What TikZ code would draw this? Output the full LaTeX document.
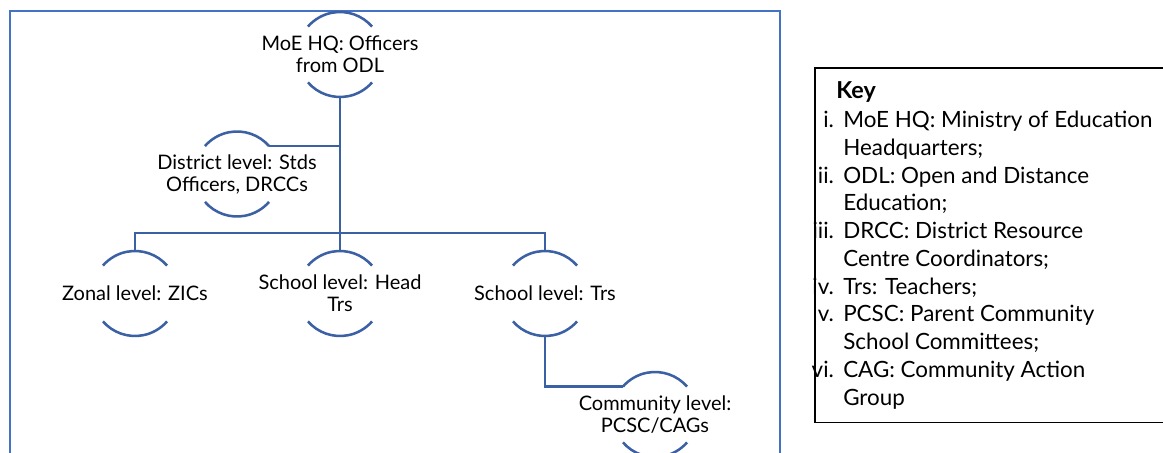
\documentclass[tikz,border=0pt]{standalone}
\usepackage{fontspec}
\setmainfont{Lato}
\usetikzlibrary{positioning}
\definecolor{frameblue}{RGB}{68,114,196}
\definecolor{ringblue}{RGB}{59,96,163}
\tikzset{
    ring/.style={circle,minimum size=63.75pt,inner sep=0pt,outer sep=0pt},
    lvl/.style={align=center,inner sep=0pt,font=\fontsize{15}{16.5}\selectfont},
    arcs/.style={ringblue,line width=1.9pt},
    link/.style={-,ringblue,line width=1.9pt},
    keytext/.style={align=left,inner sep=0pt,font=\fontsize{16.8}{20.8}\selectfont}
}
\newcommand{\keyitem}[2]{\makebox[0pt][r]{#1\hspace{7pt}}#2}

\begin{document}
\begin{tikzpicture}[x=0.75pt,y=0.75pt]

    \useasboundingbox (0,0) rectangle (1163,453);
    \draw[frameblue,line width=1.5pt] (10,-20) rectangle (780,442);

    \node[ring] (moe)       at (340,398.5) {};
    \node[ring] (district)  at (237,279)   {};
    \node[ring] (zonal)     at (135,159.5) {};
    \node[ring] (head)      at (340,159.5) {};
    \node[ring] (trs)       at (545,159.5) {};
    \node[ring] (community) at (655,38.5)  {};

    \foreach \r in {moe,district,zonal,head,trs,community}{
        \draw[arcs] (\r.41)  arc[start angle=41,end angle=139,radius=31.875pt];
        \draw[arcs] (\r.221) arc[start angle=221,end angle=319,radius=31.875pt];
    }

    \node[lvl] (moe text)       at (moe)       {MoE HQ: Officers\\from ODL};
    \node[lvl] (district text)  at (district)  {District level: Stds\\Officers, DRCCs};
    \node[lvl] (zonal text)     at (zonal)     {Zonal level: ZICs};
    \node[lvl] (head text)      at (head)      {School level: Head\\Trs};
    \node[lvl] (trs text)       at (trs)       {School level: Trs};
    \node[lvl] (community text) at (community) {Community level:\\PCSC/CAGs};

    \draw[link] (moe.south) -- (head.north);
    \draw[link] (zonal.north) -- ++(0,18) -| (trs.north);
    \draw[link] (district.41) -- (district.41 -| moe.south);
    \draw[link] (trs.south) |- (community.139);

    \draw[black,line width=1pt] (815,385) rectangle (1180,30.5);
    \node[keytext,anchor=west,font=\bfseries\fontsize{17.5}{20.8}\selectfont] (key title) at (836,361) {Key};
    \node[keytext,anchor=north west] (key list) at (843,342) {%
        \keyitem{i.}{MoE HQ: Ministry of Education}\\
        Headquarters;\\
        \keyitem{ii.}{ODL: Open and Distance}\\
        Education;\\
        \keyitem{iii.}{DRCC: District Resource}\\
        Centre Coordinators;\\
        \keyitem{iv.}{Trs: Teachers;}\\
        \keyitem{v.}{PCSC: Parent Community}\\
        School Committees;\\
        \keyitem{vi.}{CAG: Community Action}\\
        Group};

\end{tikzpicture}
\end{document}
